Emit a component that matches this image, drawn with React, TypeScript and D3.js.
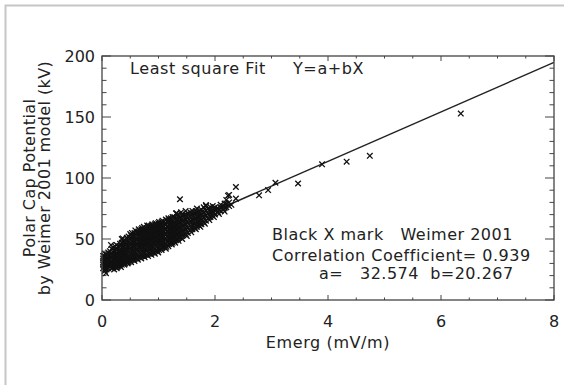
import * as d3 from "d3";

// Emerg (mV/m) vs polar cap potential (kV)
const xTicks = [0, 2, 4, 6, 8];
const yTicks = [0, 50, 100, 150, 200];
const fitA = 32.574;
const fitB = 20.267;

// isolated marks
const sparsePoints: [number, number][] = [
  [0.05, 23.8], [0.07, 22], [0.16, 45], [0.37, 50.5], [1.14, 43.6], [1.32, 71], [1.84, 77.8],
  [1.38, 82.6], [2.23, 85.5], [2.25, 86.1], [2.29, 78],
  [2.37, 92.6], [2.37, 83.1], [2.78, 85.8], [2.94, 90.1], [3.07, 96.1], [3.47, 95.5],
  [3.895, 111.2], [4.33, 113.4], [4.74, 118.2], [6.35, 152.8],
];

// dense cloud, one column of y values per x
const cloudColumns: [number, number[]][] = [
  [0.02, [26, 29, 31, 34, 36]],
  [0.05, [25, 28, 30, 33, 35, 38]],
  [0.08, [25, 28, 31, 34, 37]],
  [0.11, [26, 29, 32, 35, 39]],
  [0.14, [27, 30, 33, 36, 40]],
  [0.17, [26, 29, 32, 35, 38, 42]],
  [0.2, [27, 30, 33, 36, 39, 43]],
  [0.23, [27, 31, 34, 37, 40, 44]],
  [0.26, [26, 29, 32, 35, 38, 41, 45]],
  [0.29, [28, 31, 34, 37, 40, 44]],
  [0.32, [28, 31, 35, 38, 41, 46]],
  [0.35, [29, 32, 36, 39, 43, 47, 50]],
  [0.38, [30, 33, 36, 40, 44, 48]],
  [0.41, [30, 34, 37, 41, 45, 49]],
  [0.44, [31, 34, 38, 42, 46, 51]],
  [0.47, [31, 35, 39, 43, 47, 52]],
  [0.5, [32, 35, 39, 43, 47, 51, 54]],
  [0.53, [33, 36, 40, 44, 48, 52, 55]],
  [0.56, [33, 37, 41, 45, 49, 53]],
  [0.59, [34, 38, 42, 46, 50, 54, 57]],
  [0.62, [34, 38, 42, 46, 50, 55]],
  [0.65, [35, 39, 43, 47, 51, 55, 58]],
  [0.68, [35, 39, 44, 48, 52, 56]],
  [0.71, [36, 40, 44, 48, 52, 56, 59]],
  [0.74, [36, 40, 45, 49, 53, 57, 60]],
  [0.77, [37, 41, 45, 49, 53, 57]],
  [0.8, [37, 41, 46, 50, 54, 58, 61]],
  [0.83, [38, 42, 46, 50, 54, 58, 61]],
  [0.86, [38, 42, 47, 51, 55, 59]],
  [0.89, [39, 43, 47, 51, 55, 59, 62]],
  [0.92, [39, 43, 48, 52, 56, 60]],
  [0.95, [40, 44, 48, 52, 56, 60, 63]],
  [0.98, [40, 44, 49, 53, 57, 61]],
  [1.01, [41, 45, 49, 53, 57, 61, 64]],
  [1.04, [42, 46, 50, 54, 58, 62]],
  [1.07, [43, 47, 51, 55, 59, 63, 65]],
  [1.1, [44, 48, 52, 56, 60, 64]],
  [1.13, [42, 46, 50, 54, 58, 62, 66]],
  [1.16, [45, 49, 53, 57, 61, 65]],
  [1.19, [46, 50, 54, 58, 62, 66]],
  [1.22, [47, 51, 55, 59, 63, 67]],
  [1.25, [47, 51, 55, 59, 63, 68]],
  [1.28, [48, 52, 56, 60, 64, 68]],
  [1.31, [49, 53, 57, 61, 65, 71]],
  [1.34, [50, 54, 58, 62, 66, 70]],
  [1.37, [51, 55, 59, 63, 67]],
  [1.4, [52, 56, 60, 64, 68, 72]],
  [1.44, [53, 57, 61, 65, 69]],
  [1.48, [54, 58, 62, 66, 70, 73]],
  [1.52, [55, 59, 63, 67, 71]],
  [1.56, [57, 61, 65, 69, 72]],
  [1.6, [58, 62, 66, 70, 73]],
  [1.64, [59, 63, 67, 71]],
  [1.68, [60, 64, 68, 72, 75]],
  [1.72, [61, 65, 69, 73]],
  [1.76, [62, 66, 70, 74]],
  [1.8, [64, 68, 72, 76]],
  [1.84, [65, 69, 73, 77]],
  [1.88, [67, 71, 75]],
  [1.92, [68, 72, 76]],
  [1.96, [69, 73, 77]],
  [2.0, [70, 74, 76]],
  [2.05, [72, 75]],
  [2.1, [73, 76, 78]],
  [2.15, [74, 77]],
  [2.2, [76, 79, 82]],
  [2.25, [77, 80]],
];

// in-between marks of the same cloud
const cloudColumnsB: [number, number[]][] = [
  [0.035, [27.5, 32, 36.5]],
  [0.095, [26.5, 30, 33, 36]],
  [0.155, [28, 31.5, 35, 38]],
  [0.215, [25, 28.5, 32, 35.5, 41]],
  [0.275, [27, 30.5, 34, 37.5, 42]],
  [0.335, [27, 30, 33.5, 37, 40, 44]],
  [0.395, [29, 32, 35, 38.5, 42, 46]],
  [0.455, [30, 33, 36.5, 40.5, 44.5, 49]],
  [0.515, [31, 34, 37.5, 41.5, 45.5, 49.5, 53]],
  [0.575, [32, 35.5, 39.5, 43.5, 47.5, 51.5, 55]],
  [0.635, [33, 36.5, 40.5, 44.5, 48.5, 52.5, 56]],
  [0.695, [34, 37.5, 42, 46, 50, 54, 58]],
  [0.755, [35, 38.5, 43, 47, 51, 55, 59]],
  [0.815, [36, 39.5, 44, 48, 52, 56, 60]],
  [0.875, [37, 40.5, 45, 49, 53, 57, 61]],
  [0.935, [38, 41.5, 46, 50, 54, 58, 62]],
  [0.995, [39, 42.5, 47, 51, 55, 59, 63]],
  [1.055, [41, 44.5, 48.5, 52.5, 56.5, 60.5, 64]],
  [1.115, [43, 46.5, 50.5, 54.5, 58.5, 62.5]],
  [1.175, [44, 47.5, 51.5, 55.5, 59.5, 63.5, 67]],
  [1.235, [45.5, 49, 53, 57, 61, 65]],
  [1.295, [47, 50.5, 54.5, 58.5, 62.5, 66.5]],
  [1.355, [48.5, 52.5, 56.5, 60.5, 64.5, 68.5]],
  [1.42, [50, 54.5, 58.5, 62.5, 66.5, 70]],
  [1.5, [52.5, 56.5, 60.5, 64.5, 68.5]],
  [1.58, [55.5, 59.5, 63.5, 67.5, 71]],
  [1.66, [58, 61.5, 65.5, 69.5, 73]],
  [1.74, [60, 63.5, 67.5, 71.5]],
  [1.82, [62.5, 66.5, 70.5, 74.5]],
  [1.9, [65.5, 69.5, 73.5]],
  [1.98, [68, 71.5, 75]],
  [2.07, [70.5, 74]],
  [2.17, [72.5, 75.5, 79]],
];

const nb = "\u00a0";
const labelTop = "Least square Fit";
const labelFit = "Y=a+bX";
const infoLines = [
  `Black X mark${nb}${nb}${nb}Weimer 2001`,
  "Correlation Coefficient= 0.939",
  `a=${nb}${nb}${nb}32.574${nb}${nb}b=20.267`,
];

export default function App() {
  const width = 564;
  const height = 385;
  const x = d3.scaleLinear().domain([0, 8]).range([102, 554]);
  const y = d3.scaleLinear().domain([0, 200]).range([300, 56]);

  const flat = (cols: [number, number[]][]) =>
    cols.flatMap(([cx, ys]) => ys.map((cy) => [cx, cy] as [number, number]));
  const allPoints = [...flat(cloudColumns), ...flat(cloudColumnsB), ...sparsePoints];

  const xMinor = d3.range(0, 8.001, 0.5);
  const yMinor = d3.range(0, 200.001, 10);
  const fitLine = d3.line<number>().x((d) => x(d)).y((d) => y(fitA + fitB * d))([0, 8]);

  const [x0, x1] = x.range();
  const [y0, y1] = y.range();
  const xTickLen = 5;
  const yTickLen = 9;
  const s = 2.8;
  const ink = "#222";
  const font = "DejaVu Sans, sans-serif";

  return (
    <svg width={width} height={height} style={{ position: "absolute", left: 0, top: 0, background: "#fff" }}
      fontFamily={font}>
      <path d={`M5.5,${height} V5.5 H${width}`} fill="none" stroke="#c6c6c6" strokeWidth={2} />

      {/* ticks on all four sides, pointing in */}
      <g stroke="#444" strokeWidth={1}>
        {xMinor.map((v) => {
          const len = xTicks.includes(v) ? xTickLen : xTickLen / 2;
          return (
            <g key={`xt${v}`}>
              <line x1={x(v)} x2={x(v)} y1={y0} y2={y0 - len} />
              <line x1={x(v)} x2={x(v)} y1={y1} y2={y1 + len} />
            </g>
          );
        })}
        {yMinor.map((v) => {
          const len = yTicks.includes(v) ? yTickLen : yTickLen / 2;
          return (
            <g key={`yt${v}`}>
              <line x1={x0} x2={x0 + len} y1={y(v)} y2={y(v)} />
              <line x1={x1} x2={x1 - len} y1={y(v)} y2={y(v)} />
            </g>
          );
        })}
      </g>

      <path d={fitLine ?? ""} fill="none" stroke="#222" strokeWidth={1.4} />

      <g stroke="#111" strokeWidth={1.3}>
        {allPoints.map(([px, py], i) => (
          <path key={i}
            d={`M${x(px) - s},${y(py) - s}L${x(px) + s},${y(py) + s}M${x(px) - s},${y(py) + s}L${x(px) + s},${y(py) - s}`} />
        ))}
      </g>

      <rect x={x0} y={y1} width={x1 - x0} height={y0 - y1} fill="none" stroke="#444" strokeWidth={1.3} />

      <g fill={ink} fontSize={16}>
        {xTicks.map((v) => (
          <text key={`xl${v}`} x={x(v)} y={327} textAnchor="middle">{v}</text>
        ))}
        {yTicks.map((v) => (
          <text key={`yl${v}`} x={95} y={y(v) + 6} textAnchor="end">{v}</text>
        ))}
        <text x={(x0 + x1) / 2} y={348} textAnchor="middle" letterSpacing={0.6}>Emerg (mV/m)</text>
        <g transform={`translate(35,${(y0 + y1) / 2}) rotate(-90)`} letterSpacing={0.4}>
          <text x={0} y={0} textAnchor="middle">Polar Cap Potential</text>
          <text x={0} y={15} textAnchor="middle">by Weimer 2001 model (kV)</text>
        </g>
        <text x={130} y={74} letterSpacing={0.6}>{labelTop}</text>
        <text x={293} y={74} letterSpacing={0.6}>{labelFit}</text>
        <g letterSpacing={0.5}>
          <text x={272} y={240}>{infoLines[0]}</text>
          <text x={272} y={260.5}>{infoLines[1]}</text>
          <text x={319} y={279}>{infoLines[2]}</text>
        </g>
      </g>
    </svg>
  );
}
